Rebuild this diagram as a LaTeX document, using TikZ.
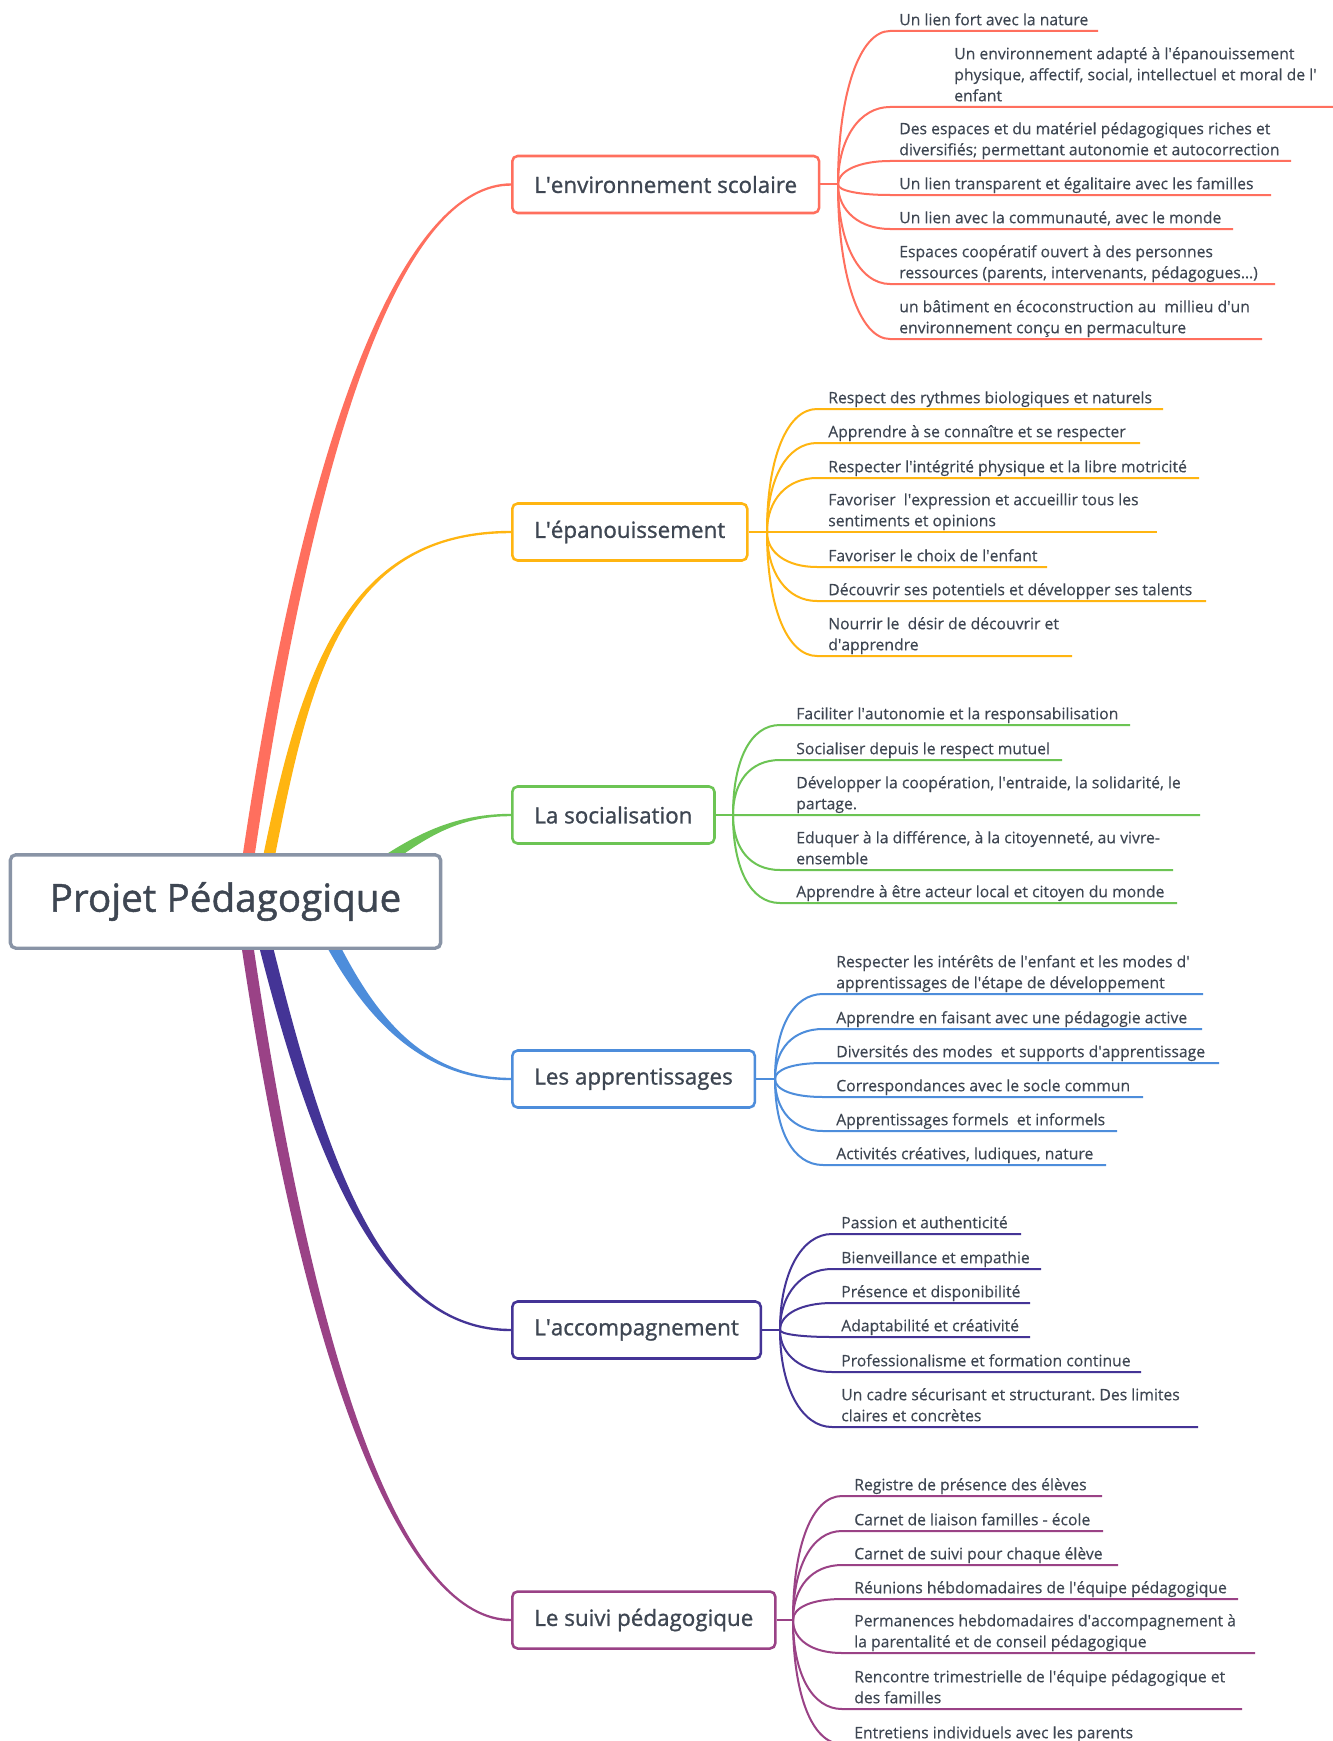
\documentclass[tikz,border=0pt]{standalone}
\usepackage{fontspec}
\setmainfont{Open Sans}
\newfontfamily\leaffont{Open Sans}[FakeBold=0.3]
\newfontfamily\topicfont{Open Sans}[FakeBold=1.1]
\usetikzlibrary{calc}
\usetikzlibrary{backgrounds}
\frenchspacing

\newcommand{\q}{\textquotesingle}

\definecolor{cred}{RGB}{255,111,94}
\definecolor{corange}{RGB}{255,181,17}
\definecolor{cgreen}{RGB}{108,196,84}
\definecolor{cblue}{RGB}{77,141,219}
\definecolor{cpurple}{RGB}{68,52,150}
\definecolor{cmagenta}{RGB}{154,66,134}
\definecolor{cgray}{RGB}{137,148,166}
\definecolor{ctext}{RGB}{62,70,82}

\tikzset{
  root/.style={draw=cgray, line width=2.5pt, rounded corners=4pt, fill=white, text=ctext,
    font=\topicfont\fontsize{29}{34}\selectfont, minimum height=70pt, inner xsep=29.5pt},
  topic/.style={draw=#1, line width=1.9pt, rounded corners=4pt, fill=white, text=ctext,
    font=\topicfont\fontsize{16.8}{20}\selectfont, minimum height=42.75pt, inner xsep=16.5pt, anchor=west},
  leaf/.style={text=ctext, font=\leaffont\fontsize{11.8}{15.75}\selectfont, align=left, inner sep=0pt,
    text depth=0pt, anchor=south west},
  twig/.style={#1, line width=1.5pt},
}

\begin{document}
\begin{tikzpicture}[x=0.75pt, y=-0.75pt]
\useasboundingbox (0,0) rectangle (1333,1741);

\node[root] (projet) at (225.5,901.5) {Projet Pédagogique};
\node[topic=cred] (env) at (511,184.5) {L\q environnement scolaire};
\node[topic=corange] (epa) at (511,532) {L\q épanouissement};
\node[topic=cgreen] (soc) at (511,815) {La socialisation};
\node[topic=cblue] (app) at (511,1079) {Les apprentissages};
\node[topic=cpurple] (acc) at (511,1330) {L\q accompagnement};
\node[topic=cmagenta] (sui) at (511,1620) {Le suivi pédagogique};

\begin{scope}[on background layer]
\fill[white] (0,0) rectangle (1333,1741);
\fill[cred] ($(projet)+(10.5,0)$) .. controls (306,401) and (410,183.5) .. ($(env.west)+(0,-1.2)$)
  -- ($(env.west)+(0,1.2)$) .. controls (410,185.5) and (318,401) .. ($(projet)+(22.5,0)$) -- cycle;
\fill[corange] ($(projet)+(28.5,0)$) .. controls (294,700) and (330,531) .. ($(epa.west)+(0,-1.2)$)
  -- ($(epa.west)+(0,1.2)$) .. controls (330,533) and (306,700) .. ($(projet)+(40.5,0)$) -- cycle;
\fill[cgreen] ($(projet)+(101,-5)$) .. controls (396,845) and (440,814) .. ($(soc.west)+(0,-1.2)$)
  -- ($(soc.west)+(0,1.2)$) .. controls (440,816) and (404,855) .. ($(projet)+(108,5)$) -- cycle;
\fill[cblue] ($(projet)+(79.5,2.8)$) .. controls (343,984) and (400,1080) .. ($(app.west)+(0,1.2)$)
  -- ($(app.west)+(0,-1.2)$) .. controls (400,1078) and (355,978) .. ($(projet)+(91.5,-2.8)$) -- cycle;
\fill[cpurple] ($(projet)+(22.5,0)$) .. controls (310,1161) and (380,1331) .. ($(acc.west)+(0,1.2)$)
  -- ($(acc.west)+(0,-1.2)$) .. controls (380,1329) and (324,1161) .. ($(projet)+(36.5,0)$) -- cycle;
\fill[cmagenta] ($(projet)+(9.5,0)$) .. controls (305,1401) and (410,1621) .. ($(sui.west)+(0,1.2)$)
  -- ($(sui.west)+(0,-1.2)$) .. controls (410,1619) and (317,1401) .. ($(projet)+(21.5,0)$) -- cycle;
\end{scope}

\coordinate (env-j) at (838,184.5);
\draw[twig=cred] (env.east) -- (env-j);
\foreach \y/\x/\r/\t [count=\i] in {
  31/899/1098/{Un lien fort avec la nature},
  107/954/1333/{Un environnement adapté à l\q épanouissement\\physique, affectif, social, intellectuel et moral de l\q\\enfant},
  161/899/1291/{Des espaces et du matériel pédagogiques riches et\\diversifiés; permettant autonomie et autocorrection},
  195/899/1271/{Un lien transparent et égalitaire avec les familles},
  229/899/1233/{Un lien avec la communauté, avec le monde},
  284/899/1275/{Espaces coopératif ouvert à des personnes\\ressources (parents, intervenants, pédagogues…)},
  339/899/1262/{un bâtiment en écoconstruction au\ \ millieu d\q un\\environnement conçu en permaculture}}{
  \coordinate (env-\i) at (890,\y);
  \node[leaf] (env-t\i) at (\x,\y-5.5) {\t};
  \draw[twig=cred] (env-j) .. controls ($(env-j)!0.6!(env-j |- env-\i)$) and ($(env-\i)+(-30,0)$) .. (env-\i) -- (\r,\y);
}

\coordinate (epa-j) at (767,532);
\draw[twig=corange] (epa.east) -- (epa-j);
\foreach \y/\r/\t [count=\i] in {
  409/1163/{Respect des rythmes biologiques et naturels},
  443/1140/{Apprendre à se connaître et se respecter},
  478/1199/{Respecter l\q intégrité physique et la libre motricité},
  532/1157/{Favoriser\ \ l\q expression et accueillir tous les\\sentiments et opinions},
  567/1047/{Favoriser le choix de l\q enfant},
  601/1206/{Découvrir ses potentiels et développer ses talents},
  656/1072/{Nourrir le\ \ désir de découvrir et\\d\q apprendre}}{
  \coordinate (epa-\i) at (817,\y);
  \node[leaf] (epa-t\i) at (828,\y-5.5) {\t};
  \draw[twig=corange] (epa-j) .. controls ($(epa-j)!0.6!(epa-j |- epa-\i)$) and ($(epa-\i)+(-30,0)$) .. (epa-\i) -- (\r,\y);
}

\coordinate (soc-j) at (733,815);
\draw[twig=cgreen] (soc.east) -- (soc-j);
\foreach \y/\r/\t [count=\i] in {
  725/1130/{Faciliter l\q autonomie et la responsabilisation},
  760/1062/{Socialiser depuis le respect mutuel},
  815/1200/{Développer la coopération, l\q entraide, la solidarité, le\\partage.},
  870/1173/{Eduquer à la différence, à la citoyenneté, au vivre-\\ensemble},
  903/1177/{Apprendre à être acteur local et citoyen du monde}}{
  \coordinate (soc-\i) at (780,\y);
  \node[leaf] (soc-t\i) at (796,\y-5.5) {\t};
  \draw[twig=cgreen] (soc-j) .. controls ($(soc-j)!0.6!(soc-j |- soc-\i)$) and ($(soc-\i)+(-30,0)$) .. (soc-\i) -- (\r,\y);
}

\coordinate (app-j) at (775,1079);
\draw[twig=cblue] (app.east) -- (app-j);
\foreach \y/\r/\t [count=\i] in {
  994/1203/{Respecter les intérêts de l\q enfant et les modes d\q\\apprentissages de l\q étape de développement},
  1029/1202/{Apprendre en faisant avec une pédagogie active},
  1063/1219/{Diversités des modes\ \ et supports d\q apprentissage},
  1097/1143/{Correspondances avec le socle commun},
  1131/1117/{Apprentissages formels\ \ et informels},
  1165/1106/{Activités créatives, ludiques, nature}}{
  \coordinate (app-\i) at (823,\y);
  \node[leaf] (app-t\i) at (836,\y-5.5) {\t};
  \draw[twig=cblue] (app-j) .. controls ($(app-j)!0.6!(app-j |- app-\i)$) and ($(app-\i)+(-30,0)$) .. (app-\i) -- (\r,\y);
}

\coordinate (acc-j) at (780,1330);
\draw[twig=cpurple] (acc.east) -- (acc-j);
\foreach \y/\r/\t [count=\i] in {
  1234/1021/{Passion et authenticité},
  1269/1041/{Bienveillance et empathie},
  1303/1030/{Présence et disponibilité},
  1337/1030/{Adaptabilité et créativité},
  1372/1141/{Professionalisme et formation continue},
  1427/1198/{Un cadre sécurisant et structurant. Des limites\\claires et concrètes}}{
  \coordinate (acc-\i) at (832,\y);
  \node[leaf] (acc-t\i) at (841,\y-5.5) {\t};
  \draw[twig=cpurple] (acc-j) .. controls ($(acc-j)!0.6!(acc-j |- acc-\i)$) and ($(acc-\i)+(-30,0)$) .. (acc-\i) -- (\r,\y);
}

\coordinate (sui-j) at (793,1620);
\draw[twig=cmagenta] (sui.east) -- (sui-j);
\foreach \y/\r/\t [count=\i] in {
  1496/1102/{Registre de présence des élèves},
  1531/1103/{Carnet de liaison familles - école},
  1565/1118/{Carnet de suivi pour chaque élève},
  1599/1238/{Réunions hébdomadaires de l\q équipe pédagogique},
  1653/1255/{Permanences hebdomadaires d\q accompagnement à\\la parentalité et de conseil pédagogique},
  1709/1242/{Rencontre trimestrielle de l\q équipe pédagogique et\\des familles},
  1744/1190/{Entretiens individuels avec les parents}}{
  \coordinate (sui-\i) at (842,\y);
  \node[leaf] (sui-t\i) at (854,\y-5.5) {\t};
  \draw[twig=cmagenta] (sui-j) .. controls ($(sui-j)!0.6!(sui-j |- sui-\i)$) and ($(sui-\i)+(-30,0)$) .. (sui-\i) -- (\r,\y);
}
\end{tikzpicture}
\end{document}
